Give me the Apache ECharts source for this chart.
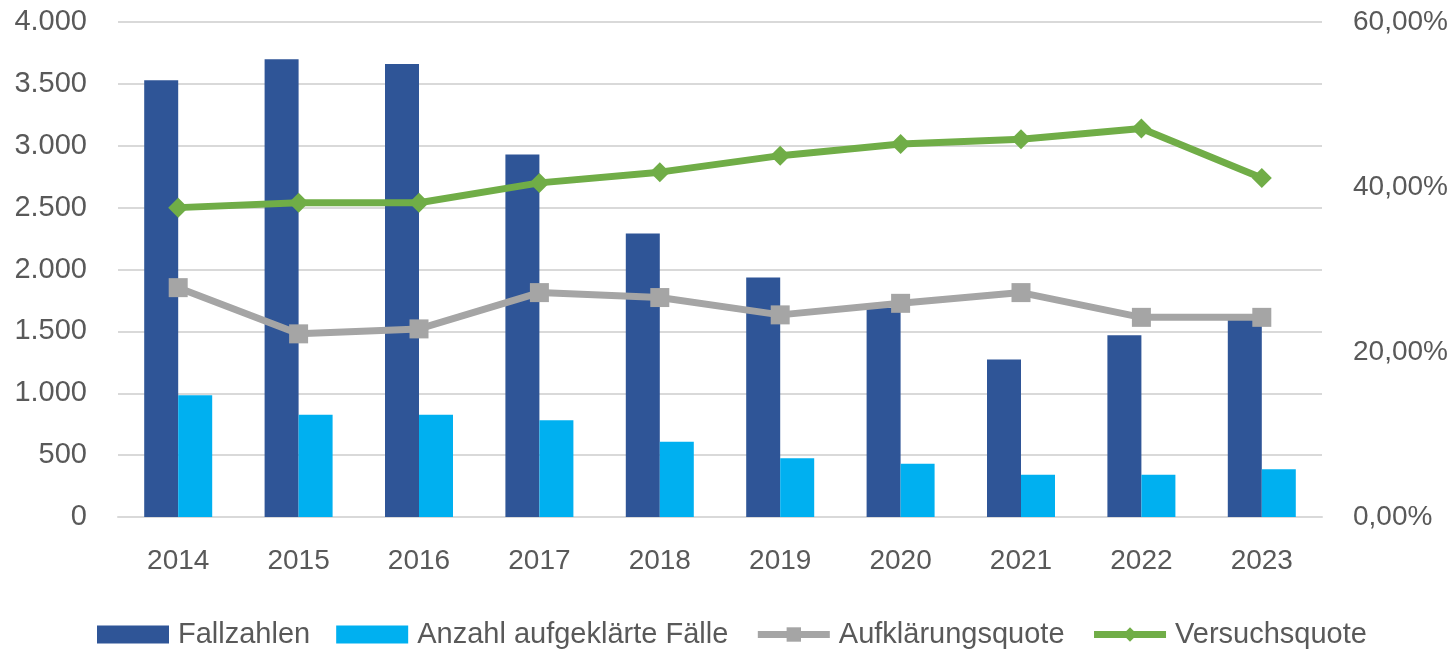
<!DOCTYPE html>
<html>
<head>
<meta charset="utf-8">
<script src="https://cdn.jsdelivr.net/npm/echarts@6/dist/echarts.min.js"></script>
<style>
html,body{margin:0;padding:0;background:#fff;}
#chart{width:1455px;height:652px;}
</style>
</head>
<body>
<div id="chart"></div>
<script>
var years = ['2014','2015','2016','2017','2018','2019','2020','2021','2022','2023'];
var fallzahlen = [3530, 3700, 3660, 2930, 2290, 1935, 1690, 1272, 1468, 1630];
var aufgeklaert = [983, 827, 827, 781, 609, 474, 431, 342, 342, 385];
var aufklaerungsquote = [27.8, 22.2, 22.8, 27.2, 26.6, 24.5, 25.9, 27.2, 24.2, 24.2];
var versuchsquote = [37.5, 38.1, 38.1, 40.5, 41.8, 43.8, 45.2, 45.8, 47.1, 41.1];

var textColor = '#595959';
var gridColor = '#D9D9D9';
var tickFont = '"Liberation Sans", Arial, sans-serif';

var chart = echarts.init(document.getElementById('chart'), null, {renderer: 'canvas'});
chart.setOption({
  animation: false,
  backgroundColor: '#ffffff',
  grid: {left: 118, right: 133, top: 22, bottom: 135, containLabel: false},
  legend: {
    left: 92,
    top: 615,
    itemWidth: 72,
    itemHeight: 18,
    itemGap: 26,
    textStyle: {color: textColor, fontSize: 29, fontFamily: tickFont, padding: [0, 0, 0, 4]},
    data: [
      {name: 'Fallzahlen', icon: 'rect'},
      {name: 'Anzahl aufgeklärte Fälle', icon: 'rect'},
      {name: 'Aufklärungsquote', lineStyle: {width: 7}},
      {name: 'Versuchsquote', lineStyle: {width: 7}}
    ]
  },
  xAxis: {
    type: 'category',
    data: years,
    axisLine: {show: true, lineStyle: {color: gridColor, width: 2}},
    axisTick: {show: false},
    axisLabel: {color: textColor, fontSize: 28, fontFamily: tickFont, margin: 30}
  },
  yAxis: [
    {
      type: 'value',
      min: 0, max: 4000, interval: 500,
      axisLine: {show: false},
      axisTick: {show: false},
      splitLine: {show: true, lineStyle: {color: gridColor, width: 2}},
      axisLabel: {
        color: textColor, fontSize: 29, fontFamily: tickFont, margin: 31,
        formatter: function (v) { return String(v).replace(/\B(?=(\d{3})+(?!\d))/g, '.'); }
      }
    },
    {
      type: 'value',
      min: 0, max: 60, interval: 20,
      position: 'right',
      axisLine: {show: false},
      axisTick: {show: false},
      splitLine: {show: false},
      axisLabel: {
        color: textColor, fontSize: 28, fontFamily: tickFont, margin: 31,
        formatter: function (v) { return v.toFixed(2).replace('.', ',') + '%'; }
      }
    }
  ],
  series: [
    {
      name: 'Fallzahlen', type: 'bar', yAxisIndex: 0,
      data: fallzahlen, barWidth: 34, barGap: '0%',
      itemStyle: {color: '#2F5597'}
    },
    {
      name: 'Anzahl aufgeklärte Fälle', type: 'bar', yAxisIndex: 0,
      data: aufgeklaert, barWidth: 34, barGap: '0%',
      itemStyle: {color: '#00B0F0'}
    },
    {
      name: 'Aufklärungsquote', type: 'line', yAxisIndex: 1,
      data: aufklaerungsquote,
      symbol: 'rect', symbolSize: 19,
      lineStyle: {color: '#A5A5A5', width: 7},
      itemStyle: {color: '#A5A5A5'}
    },
    {
      name: 'Versuchsquote', type: 'line', yAxisIndex: 1,
      data: versuchsquote,
      symbol: 'diamond', symbolSize: 20,
      lineStyle: {color: '#70AD47', width: 7},
      itemStyle: {color: '#70AD47'}
    }
  ]
});
</script>
</body>
</html>
